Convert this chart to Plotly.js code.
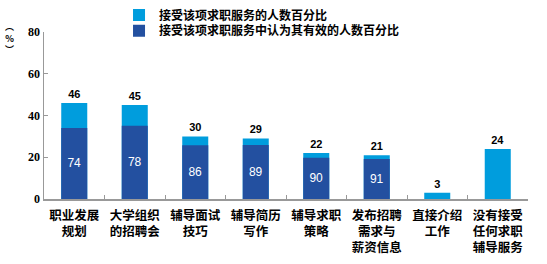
<!DOCTYPE html>
<html><head><meta charset="utf-8">
<script src="https://cdn.plot.ly/plotly-3.0.1.min.js"></script>
<style>body{margin:0;padding:0;background:#fff}#chart{width:547px;height:264px}</style>
</head><body><div id="chart"></div>
<script>
const categories = ["职业发展<br>规划","大学组织<br>的招聘会","辅导面试<br>技巧","辅导简历<br>写作","辅导求职<br>策略","发布招聘<br>需求与<br>薪资信息","直接介绍<br>工作","没有接受<br>任何求职<br>辅导服务"];
const receivedPct = [46, 45, 30, 29, 22, 21, 3, 24];
const effectivePct = [74, 78, 86, 89, 90, 91, null, null];
const seriesNames = ["接受该项求职服务的人数百分比","接受该项求职服务中认为其有效的人数百分比"];
const yTicks = [0, 20, 40, 60, 80];
const yUnit = "︵<br>%<br>︶";

const effHeight = receivedPct.map((v, i) => effectivePct[i] == null ? null : v * effectivePct[i] / 100);
const cjk = '"Noto Sans CJK SC", "Liberation Sans", sans-serif';

const traces = [
  {type:'bar', x:categories, y:receivedPct, name:seriesNames[0], legend:'legend',
   marker:{color:'#009DDD'}, width:0.43,
   text:receivedPct.map(String), textposition:'outside', cliponaxis:false,
   textfont:{family:'"Liberation Sans", Arial', size:11, color:'#000', weight:'bold'}},
  {type:'bar', x:categories, y:effHeight, name:seriesNames[1], legend:'legend2',
   marker:{color:'#2350A0'}, width:0.43,
   text:effectivePct.map(v => v == null ? '' : String(v)), textposition:'inside', insidetextanchor:'middle',
   textfont:{family:'"Liberation Sans", Arial', size:12, color:'#fff'}}
];

const legFont = {family:cjk, size:12, color:'#000', weight:'bold'};
const layout = {
  width:547, height:264,
  margin:{l:44, r:19, t:32, b:65, autoexpand:false},
  barmode:'overlay',
  paper_bgcolor:'#fff', plot_bgcolor:'#fff',
  showlegend:true,
  legend:{x:0.155, y:1.102, xanchor:'left', yanchor:'middle', bgcolor:'rgba(0,0,0,0)', font:legFont, itemwidth:30},
  legend2:{x:0.155, y:1.008, xanchor:'left', yanchor:'middle', bgcolor:'rgba(0,0,0,0)', font:legFont, itemwidth:30},
  xaxis:{showline:true, linecolor:'#999', linewidth:1.5, ticks:'inside', ticklen:4, tickcolor:'#999',
    tickson:'boundaries', showgrid:false, zeroline:false, ticklabelstandoff:4,
    tickfont:{family:cjk, size:12.5, color:'#000', weight:'bold'}},
  yaxis:{range:[0,80], tickvals:yTicks, showline:true, linecolor:'#999', linewidth:1.5,
    ticks:'inside', ticklen:4, tickcolor:'#999', showgrid:false, zeroline:false,
    tickfont:{family:'"Liberation Serif", serif', size:12, color:'#000', weight:'bold'}},
  annotations:[{xref:'paper', yref:'paper', x:-0.072, y:0.965, xanchor:'center', yanchor:'middle',
    text:yUnit, showarrow:false, font:{family:cjk, size:9, color:'#000', weight:'bold'}}]
};
Plotly.newPlot('chart', traces, layout, {displayModeBar:false, staticPlot:true});
</script></body></html>
